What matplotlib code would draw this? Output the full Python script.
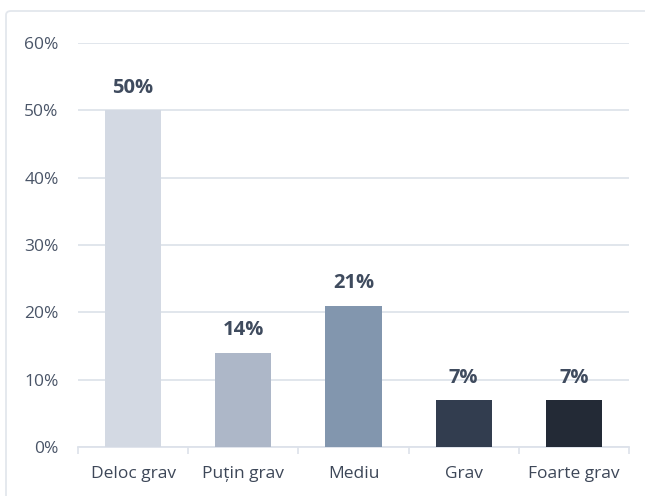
import matplotlib
matplotlib.use("Agg")
import matplotlib.pyplot as plt
from matplotlib.patches import FancyBboxPatch
from matplotlib.ticker import FixedLocator, PercentFormatter

categories = ["Deloc grav", "Puțin grav", "Mediu", "Grav", "Foarte grav"]
values = [50, 14, 21, 7, 7]
bar_colors = ["#d3d9e3", "#adb7c8", "#8296ae", "#323d4f", "#232a36"]
y_ticks = [0, 10, 20, 30, 40, 50, 60]

plt.rcParams["font.family"] = ["Open Sans", "DejaVu Sans"]

fig = plt.figure(figsize=(6.45, 4.96), dpi=100)

# card outline, running off the right and bottom edges
card = FancyBboxPatch(
    (6 / 645, -0.1), 1.2, 1 - 11 / 496 + 0.1,
    boxstyle="round,pad=0,rounding_size=0.008",
    transform=fig.transFigure, facecolor="white",
    edgecolor="#e3e7ed", linewidth=1.3, zorder=0,
)
fig.add_artist(card)

ax = fig.add_axes([78 / 645, 1 - 447 / 496, (629 - 78) / 645, (447 - 43) / 496])
ax.set_facecolor("none")

x = range(len(categories))
ax.bar(x, values, width=0.51, color=bar_colors, zorder=3)

for xi, v in zip(x, values):
    ax.annotate(
        f"{v}%", (xi, v), xytext=(0, 12.5), textcoords="offset points",
        ha="center", va="baseline", fontsize=14.5, fontweight="bold",
        color="#3f4b5e", zorder=4,
    )

ax.set_xlim(-0.5, len(categories) - 0.5)
ax.set_ylim(0, 60)
ax.set_yticks(y_ticks)
ax.yaxis.set_major_formatter(PercentFormatter(decimals=0))
ax.grid(axis="y", color="#e1e6ec", linewidth=1.4, zorder=0)

ax.set_xticks(list(x))
ax.set_xticklabels(categories)
ax.xaxis.set_minor_locator(FixedLocator([i - 0.5 for i in range(len(categories) + 1)]))
ax.tick_params(axis="x", which="major", length=0, pad=14, labelsize=12.5, labelcolor="#3d4758")
ax.tick_params(axis="x", which="minor", length=5, width=1.2, color="#dde2ea")
ax.tick_params(axis="y", length=0, pad=14, labelsize=12.5, labelcolor="#4a5568")

for side in ["top", "right", "left"]:
    ax.spines[side].set_visible(False)
ax.spines["bottom"].set_color("#dde2ea")
ax.spines["bottom"].set_linewidth(1.3)
ax.spines["bottom"].set_zorder(2)

fig.savefig("out.png", dpi=100)
